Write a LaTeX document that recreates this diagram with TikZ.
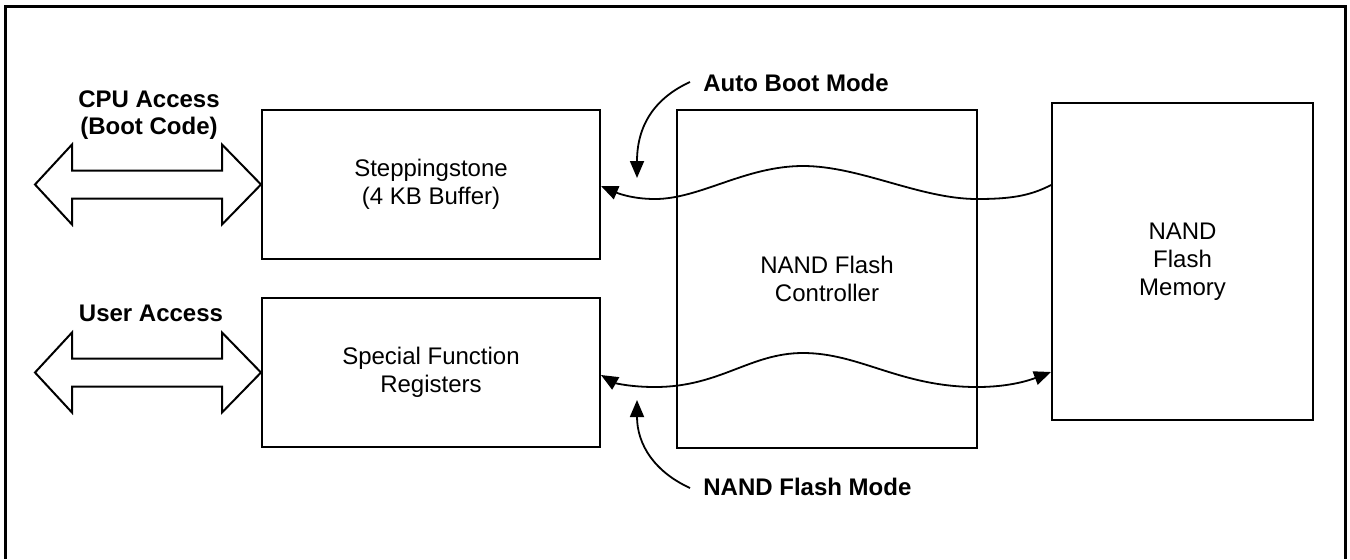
\documentclass[tikz,border=0pt]{standalone}
\usepackage{fontspec}
\setmainfont{Liberation Sans}
\usetikzlibrary{arrows.meta,positioning,calc}
\tikzset{
  unitbox/.style={draw, line width=1pt, align=center, inner sep=0pt,
    font=\fontsize{12}{14}\selectfont},
  tag/.style={font=\fontsize{12}{13.5}\selectfont\bfseries,
    align=center, inner sep=0pt},
  bus/.style={draw, line width=1pt, fill=white, line join=miter},
  wave/.style={line width=0.9pt},
  pointer/.style={line width=0.9pt, ->},
}

\begin{document}
\begin{tikzpicture}[x=0.5pt, y=-0.5pt, >={Triangle[length=8.5pt,width=7pt]}]
    \useasboundingbox (0,0) rectangle (1350,559);
    \draw[line width=1.5pt] (5,559) -- (5,6) -- (1345,6) -- (1345,559);

    \node[unitbox, minimum width=169pt, minimum height=74.5pt]
      (step) at (431,184.5) {Steppingstone\\(4 KB Buffer)};
    \node[unitbox, minimum width=169pt, minimum height=74.5pt]
      (sfr) at (431,372.5) {Special Function\\Registers};
    \node[unitbox, minimum width=150pt, minimum height=169pt]
      (ctrl) at (827,279) {NAND Flash\\Controller};
    \node[unitbox, minimum width=130.5pt, minimum height=158.5pt]
      (mem) at (1182.5,261.5) {NAND\\Flash\\Memory};

    \node[tag] (cpu) at (149,115) {CPU Access\\(Boot Code)};
    \node[tag] (user) at (151,313) {User Access};
    \node[tag, anchor=west] (auto) at (703,83) {Auto Boot Mode};
    \node[tag, anchor=west] (nfm) at (703,487) {NAND Flash Mode};

    \foreach \b in {step,sfr}
      \draw[bus] (\b.west) -- ++(-39,-40) -- ++(0,26) -- ++(-150,0)
        -- ++(0,-26) -- ++(-37,40) -- ++(37,40) -- ++(0,-26)
        -- ++(150,0) -- ++(0,26) -- cycle;

    \draw[wave, ->] ($(mem.north west)+(0,83)$)
      .. controls (1030,196) and (1010,199) .. (977,199)
      .. controls (920,199) and (860,166) .. (803,166)
      .. controls (745,166) and (700,199) .. (655,199)
      .. controls (630,199) and (615,192) .. ($(step.east)+(0,1.5)$);
    \draw[wave, <->] ($(sfr.east)+(0,2.5)$)
      .. controls (615,383) and (630,387) .. (655,387)
      .. controls (720,387) and (750,353) .. (803,353)
      .. controls (860,353) and (900,387) .. (977,387)
      .. controls (1010,387) and (1030,380) .. ($(mem.north west)+(0,270)$);

    \coordinate (autotip) at (637,178);
    \coordinate (nfmtip) at (637,400);
    \draw[pointer] ($(auto.west)+(-13,-1)$)
      .. controls (655,98) and (637,125) .. (autotip);
    \draw[pointer] ($(nfm.west)+(-13,1)$)
      .. controls (655,472) and (637,445) .. (nfmtip);
  \end{tikzpicture}
\end{document}
